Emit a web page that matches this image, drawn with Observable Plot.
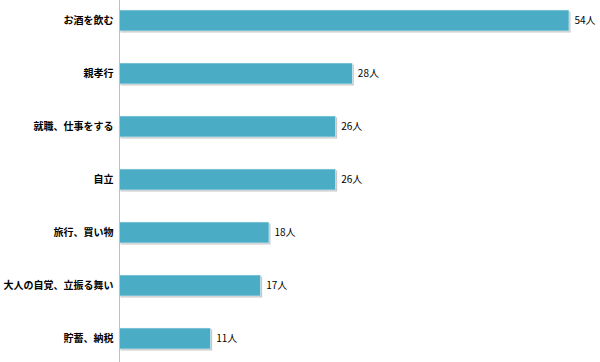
<!DOCTYPE html>
<html>
<head>
<meta charset="utf-8">
<script src="https://cdn.jsdelivr.net/npm/d3@7"></script>
<script src="https://cdn.jsdelivr.net/npm/@observablehq/plot@0.6"></script>
<style>
  html, body { margin: 0; padding: 0; background: #fff; }
</style>
</head>
<body>
<div id="chart"></div>
<script>
const categories = ["お酒を飲む", "親孝行", "就職、仕事をする", "自立", "旅行、買い物", "大人の自覚、立振る舞い", "貯蓄、納税"];
const values = [54, 28, 26, 26, 18, 17, 11];
const unit = "人";

const data = categories.map((c, i) => ({category: c, value: values[i]}));

const chart = Plot.plot({
  width: 600,
  height: 362,
  marginLeft: 119,
  marginRight: 31,
  marginTop: 0,
  marginBottom: 3,
  style: {fontFamily: "'Noto Sans CJK JP', sans-serif", fontSize: "10px", color: "#000", background: "#fff"},
  x: {domain: [0, 54], axis: null},
  y: {domain: categories, paddingInner: 0.611, paddingOuter: 0.13, axis: null},
  marks: [
    Plot.barX(data, {y: "category", x: "value", fill: "#c8c8c8", dx: 1.5, dy: 1.5}),
    Plot.barX(data, {y: "category", x: "value", fill: "#4BACC6", stroke: "#e8f4f8", strokeWidth: 0.6}),
    Plot.ruleX([0], {stroke: "#bfbfbf", strokeWidth: 1, insetBottom: -3}),
    Plot.axisY({tickSize: 0, tickPadding: 6, label: null, fontWeight: "bold", fontSize: 10, fill: "#000"}),
    Plot.text(data, {y: "category", x: "value", text: d => `${d.value}${unit}`, textAnchor: "start", dx: 5, fill: "#000", fontSize: 10})
  ]
});
document.getElementById("chart").appendChild(chart);
</script>
</body>
</html>
